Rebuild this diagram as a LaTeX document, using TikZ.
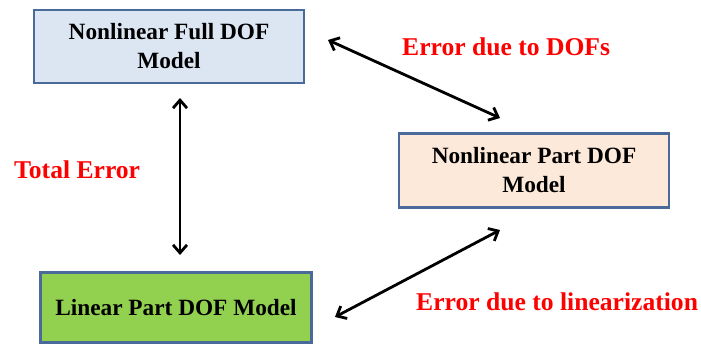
\documentclass[tikz,border=0pt]{standalone}
\usepackage{fontspec}
\setmainfont{Liberation Serif}
\usetikzlibrary{arrows.meta}
\definecolor{boxborder}{HTML}{4A6A9A}
\definecolor{bluefill}{HTML}{DCE6F2}
\definecolor{peachfill}{HTML}{FDE9D9}
\definecolor{greenfill}{HTML}{92D050}
\begin{document}
\begin{tikzpicture}[x=1pt,y=-1pt,
  modelbox/.style={draw=boxborder,line width=2.6pt,minimum width=270pt,align=center,
    font=\fontsize{23.3}{29}\selectfont\bfseries,inner sep=0pt},
  errlabel/.style={text=red,font=\fontsize{25.6}{30}\selectfont\bfseries,inner sep=0pt},
  errarrow/.style={line width=2.8pt,{Straight Barb[length=8pt,width=14pt]}-{Straight Barb[length=8pt,width=14pt]}}]
\useasboundingbox (0,0) rectangle (701,345);
\node[modelbox,fill=bluefill,minimum height=73pt] (full) at (169,46.5) {Nonlinear Full DOF\\Model};
\node[modelbox,fill=peachfill,minimum height=74pt] (part) at (534,170.5) {Nonlinear Part DOF\\Model};
\node[modelbox,fill=greenfill,minimum height=70pt,minimum width=271pt] (lin) at (176,307.5) {Linear Part DOF Model};
\node[errlabel,anchor=west] (edof) at (402,47) {Error due to DOFs};
\node[errlabel,anchor=west] (etot) at (14,170) {Total Error};
\node[errlabel,anchor=west] (elin) at (416,302) {Error due to linearization};
\coordinate (a1) at (180,98);
\coordinate (a2) at (180,255);
\coordinate (b1) at (328,40);
\coordinate (b2) at (500,118);
\coordinate (c1) at (500,230);
\coordinate (c2) at (335,317);
\draw[errarrow] (a1) -- (a2);
\draw[errarrow] (b1) -- (b2);
\draw[errarrow] (c1) -- (c2);
\end{tikzpicture}
\end{document}
